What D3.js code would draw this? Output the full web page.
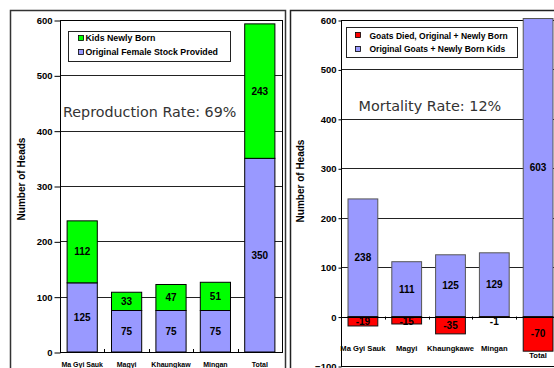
<!DOCTYPE html>
<html><head><meta charset="utf-8">
<script src="https://cdn.jsdelivr.net/npm/d3@7"></script>
<style>
html,body{margin:0;padding:0;background:#fff;}
svg{display:block;}
text{font-family:"Liberation Sans",Arial,sans-serif;}
text.note{font-family:"DejaVu Sans",Verdana,sans-serif;}
</style></head>
<body>
<svg id="c" width="554" height="368"></svg>
<script>
// ---- data ----
const categoriesLeft = ["Ma Gyi Sauk","Magyi","Khaungkaw","Mingan","Total"];
const originalStock = [125,75,75,75,350];
const kidsBorn = [112,33,47,51,243];
const leftTicks = [0,100,200,300,400,500,600];
const leftLegend = ["Kids Newly Born","Original Female Stock Provided"];
const leftNote = "Reproduction Rate: 69%";

const categoriesRight = ["Ma Gyi Sauk","Magyi","Khaungkawe","Mingan","Total"];
const goatsTotal = [238,111,125,129,603];
const goatsDied = [-19,-15,-35,-1,-70];
const rightTicks = [-100,0,100,200,300,400,500,600];
const rightLegend = ["Goats Died, Original + Newly Born","Original Goats + Newly Born Kids"];
const rightNote = "Mortality Rate: 12%";
const yTitle = "Number of Heads";

const GREEN="#00ff00", BLUE="#9999ff", RED="#ff0000";
const svg = d3.select("#c");

// outer panels
svg.append("rect").attr("x",10.5).attr("y",10.5).attr("width",275).attr("height",400)
  .attr("fill","none").attr("stroke","#333").attr("stroke-width",1.5);
svg.append("rect").attr("x",290.5).attr("y",10.5).attr("width",300).attr("height",400)
  .attr("fill","none").attr("stroke","#222").attr("stroke-width",1.5);

// ========== LEFT CHART ==========
(function(){
  const L=60,R=282,T=20,B=352;
  const x=d3.scaleBand().domain(categoriesLeft).range([L,R]).paddingInner(0.32).paddingOuter(0.16);
  const y=d3.scaleLinear().domain([0,600]).range([B,T]);
  const g=svg.append("g");
  g.selectAll("line.grid").data(leftTicks.filter(t=>t>0&&t<600)).join("line")
    .attr("x1",L).attr("x2",R).attr("y1",d=>Math.round(y(d))+0.5).attr("y2",d=>Math.round(y(d))+0.5)
    .attr("stroke","#222").attr("stroke-width",1);
  g.append("rect").attr("x",L+0.5).attr("y",T+0.5).attr("width",R-L).attr("height",B-T)
    .attr("fill","none").attr("stroke","#000").attr("stroke-width",1);
  const ay=g.append("g").attr("transform",`translate(${L+0.5},0.5)`)
    .call(d3.axisLeft(y).tickValues(leftTicks).tickSize(6).tickPadding(2));
  ay.select(".domain").remove();
  ay.selectAll("line").attr("stroke","#000");
  ay.selectAll("text").style("font-size","9.5px").style("font-weight","bold").attr("fill","#000")
    .style("font-family","Liberation Sans, Arial, sans-serif");
  categoriesLeft.forEach((c,i)=>{
    const x0=x(c), w=x.bandwidth();
    const a=originalStock[i], b=kidsBorn[i];
    g.append("rect").attr("x",x0).attr("y",y(a)).attr("width",w).attr("height",y(0)-y(a))
      .attr("fill",BLUE).attr("stroke","#000").attr("stroke-width",1);
    g.append("rect").attr("x",x0).attr("y",y(a+b)).attr("width",w).attr("height",y(a)-y(a+b))
      .attr("fill",GREEN).attr("stroke","#000").attr("stroke-width",1);
    g.append("text").attr("x",x0+w/2).attr("y",y(a/2)).attr("dy","0.36em").attr("text-anchor","middle")
      .attr("font-size","10px").attr("font-weight","bold").text(a);
    g.append("text").attr("x",x0+w/2).attr("y",y(a+b/2)).attr("dy","0.36em").attr("text-anchor","middle")
      .attr("font-size","10px").attr("font-weight","bold").text(b);
    g.append("text").attr("x",x0+w/2).attr("y",366.5).attr("text-anchor","middle")
      .attr("font-size","7px").attr("font-weight","bold").text(c);
    if(i>0){
      const bx=Math.round(x0 - x.step()*x.paddingInner()/2)+0.5;
      g.append("line").attr("x1",bx).attr("x2",bx).attr("y1",B).attr("y2",B-3).attr("stroke","#000");
    }
  });
  const lg=g.append("g");
  lg.append("rect").attr("x",68.5).attr("y",31.5).attr("width",162).attr("height",30)
    .attr("fill","#fff").attr("stroke","#222").attr("stroke-width",1);
  [GREEN,BLUE].forEach((col,i)=>{
    lg.append("rect").attr("x",78.5).attr("y",35.5+i*14).attr("width",5).attr("height",5)
      .attr("fill",col).attr("stroke","#000").attr("stroke-width",0.8);
    lg.append("text").attr("x",85.5).attr("y",41+i*14).attr("font-size","8.8px").attr("font-weight","bold")
      .text(leftLegend[i]);
  });
  g.append("text").attr("class","note").attr("x",63).attr("y",117)
    .attr("font-size","14.3px").attr("fill","#333").text(leftNote);
  g.append("text").attr("transform","translate(24.5,179) rotate(-90)").attr("text-anchor","middle")
    .attr("font-size","10px").attr("font-weight","bold").text(yTitle);
})();

// ========== RIGHT CHART ==========
(function(){
  const L=341,R=560,T=20,B=366;
  const x=d3.scaleBand().domain(categoriesRight).range([L,R]).paddingInner(0.32).paddingOuter(0.16);
  const y=d3.scaleLinear().domain([-100,600]).range([B,T]);
  const g=svg.append("g");
  g.selectAll("line.grid").data(rightTicks.filter(t=>t>-100&&t<600&&t!==0)).join("line")
    .attr("x1",L).attr("x2",R).attr("y1",d=>Math.round(y(d))+0.5).attr("y2",d=>Math.round(y(d))+0.5)
    .attr("stroke","#222").attr("stroke-width",1);
  g.append("rect").attr("x",L+0.5).attr("y",T+0.5).attr("width",R-L).attr("height",B-T)
    .attr("fill","none").attr("stroke","#000").attr("stroke-width",1);
  const ay=g.append("g").attr("transform",`translate(${L+0.5},0.5)`)
    .call(d3.axisLeft(y).tickValues(rightTicks).tickSize(3).tickPadding(2));
  ay.select(".domain").remove();
  ay.selectAll("line").attr("stroke","#000");
  ay.selectAll("text").style("font-size","9.5px").style("font-weight","bold").attr("fill","#000")
    .style("font-family","Liberation Sans, Arial, sans-serif");
  categoriesRight.forEach((c,i)=>{
    const x0=x(c), w=x.bandwidth();
    const p=goatsTotal[i], n=goatsDied[i];
    g.append("rect").attr("x",x0).attr("y",y(p)).attr("width",w).attr("height",y(0)-y(p))
      .attr("fill",BLUE).attr("stroke","#555").attr("stroke-width",1);
    g.append("rect").attr("x",x0).attr("y",y(0)).attr("width",w).attr("height",y(n)-y(0))
      .attr("fill",RED).attr("stroke","#111").attr("stroke-width",1);
    g.append("text").attr("x",x0+w/2).attr("y",y(p/2)).attr("dy","0.36em").attr("text-anchor","middle")
      .attr("font-size","10px").attr("font-weight","bold").text(p);
    const ny=Math.max(y(n/2), y(0)+5);
    g.append("text").attr("x",x0+w/2).attr("y",ny).attr("dy","0.36em").attr("text-anchor","middle")
      .attr("font-size","10px").attr("font-weight","bold").text(n);
    g.append("text").attr("x",x0+w/2).attr("y",Math.max(y(0)+34,y(n)+7)).attr("text-anchor","middle")
      .attr("font-size","7.6px").attr("font-weight","bold").text(c);
    if(i>0){
      const bx=Math.round(x0 - x.step()*x.paddingInner()/2)+0.5;
      g.append("line").attr("x1",bx).attr("x2",bx).attr("y1",y(0)).attr("y2",y(0)+3).attr("stroke","#000");
    }
  });
  g.append("line").attr("x1",L).attr("x2",R).attr("y1",Math.round(y(0))+0.5).attr("y2",Math.round(y(0))+0.5)
    .attr("stroke","#000").attr("stroke-width",1);
  const lg=g.append("g");
  lg.append("rect").attr("x",346.5).attr("y",27.5).attr("width",171).attr("height",30)
    .attr("fill","#fff").attr("stroke","#222").attr("stroke-width",1);
  [RED,BLUE].forEach((col,i)=>{
    lg.append("rect").attr("x",355.5).attr("y",32.5+i*14).attr("width",5).attr("height",5)
      .attr("fill",col).attr("stroke","#000").attr("stroke-width",0.8);
    lg.append("text").attr("x",369.5).attr("y",38.5+i*13.5).attr("font-size","8.5px").attr("font-weight","bold")
      .text(rightLegend[i]);
  });
  g.append("text").attr("class","note").attr("x",358.5).attr("y",111)
    .attr("font-size","14.4px").attr("fill","#333").text(rightNote);
  g.append("text").attr("transform","translate(303.5,181) rotate(-90)").attr("text-anchor","middle")
    .attr("font-size","10px").attr("font-weight","bold").text(yTitle);
})();
</script>
</body></html>
